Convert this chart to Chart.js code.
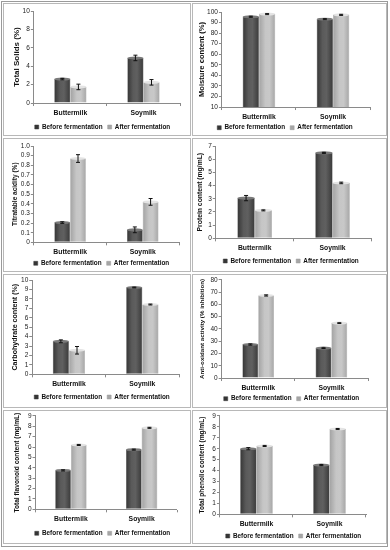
<!DOCTYPE html>
<html>
<head>
<meta charset="utf-8">
<script src="https://cdn.jsdelivr.net/npm/chart.js@4"></script>
<style>
  html, body { margin: 0; padding: 0; background: #fff; }
  #wrap { position: relative; width: 390px; height: 550px; overflow: hidden; }
  #frame { position: absolute; left: 1px; top: 1px; width: 387px; height: 546px; border: 1px solid #9a9a9a; box-sizing: border-box; }
  .cell { position: absolute; border: 1px solid #b8b8b8; box-sizing: border-box; background: #fff; overflow: hidden; }
  .cell canvas { display: block; }
</style>
</head>
<body>
<div id="wrap">
  <div id="frame"></div>
</div>
<script>
// ---------- DATA ----------
const categories = ["Buttermilk", "Soymilk"];
const seriesNames = ["Before fermentation", "After fermentation"];

const solidsBefore = [2.6, 4.9];
const solidsAfter = [1.75, 2.25];
const solidsErrBefore = [0.08, 0.3];
const solidsErrAfter = [0.3, 0.3];

const moistureBefore = [95.5, 93.2];
const moistureAfter = [98.0, 97.3];
const moistureErrBefore = [0.5, 0.5];
const moistureErrAfter = [0.5, 0.5];

const acidityBefore = [0.205, 0.13];
const acidityAfter = [0.87, 0.42];
const acidityErrBefore = [0.008, 0.03];
const acidityErrAfter = [0.04, 0.035];

const proteinBefore = [3.05, 6.48];
const proteinAfter = [2.12, 4.2];
const proteinErrBefore = [0.2, 0.04];
const proteinErrAfter = [0.04, 0.06];

const carbBefore = [3.5, 9.2];
const carbAfter = [2.55, 7.4];
const carbErrBefore = [0.15, 0.04];
const carbErrAfter = [0.4, 0.05];

const antioxBefore = [27.3, 24.4];
const antioxAfter = [67.3, 44.8];
const antioxErrBefore = [0.5, 0.3];
const antioxErrAfter = [0.5, 0.3];

const flavBefore = [3.75, 5.75];
const flavAfter = [6.2, 7.85];
const flavErrBefore = [0.06, 0.05];
const flavErrAfter = [0.05, 0.05];

const phenBefore = [6.0, 4.5];
const phenAfter = [6.25, 7.8];
const phenErrBefore = [0.1, 0.05];
const phenErrAfter = [0.05, 0.05];

const yTitles = [
  "Total Solids (%)",
  "Moisture content (%)",
  "Titratable acidity (%)",
  "Protein content (mg/mL)",
  "Carbohydrate content (%)",
  "Anti-oxidant activity (% inhibition)",
  "Total flavonoid content (mg/mL)",
  "Total phenolic content (mg/mL)"
];
const yMins = [0, 10, 0, 0, 0, 0, 0, 0];
const yMaxs = [10, 100, 1, 7, 10, 80, 9, 9];
const ySteps = [2, 10, 0.1, 1, 1, 10, 1, 1];

const panelSeries = [
  [solidsBefore, solidsAfter, solidsErrBefore, solidsErrAfter],
  [moistureBefore, moistureAfter, moistureErrBefore, moistureErrAfter],
  [acidityBefore, acidityAfter, acidityErrBefore, acidityErrAfter],
  [proteinBefore, proteinAfter, proteinErrBefore, proteinErrAfter],
  [carbBefore, carbAfter, carbErrBefore, carbErrAfter],
  [antioxBefore, antioxAfter, antioxErrBefore, antioxErrAfter],
  [flavBefore, flavAfter, flavErrBefore, flavErrAfter],
  [phenBefore, phenAfter, phenErrBefore, phenErrAfter]
];

// ---------- LAYOUT (positions / styles) ----------
const cellBoxes = [
  [3, 3, 188, 133], [192, 3, 195, 133],
  [3, 138, 188, 134], [192, 138, 195, 134],
  [3, 274, 188, 134], [192, 274, 195, 134],
  [3, 410, 188, 134], [192, 410, 195, 134]
];
const pads = [
  {top: 7, right: 10, left: 8, bottom: -6.6},
  {top: 8, right: 16, left: 4, bottom: -10.6},
  {top: 7, right: 11, left: 7, bottom: -9.9},
  {top: 7, right: 14.5, left: 3, bottom: -5.9},
  {top: 5, right: 11, left: 7, bottom: -5.9},
  {top: 3, right: 18, left: 5.5, bottom: -9.6},
  {top: 4, right: 13, left: 9, bottom: -4.9},
  {top: 4, right: 20, left: 5.5, bottom: -9.9}
];
const titleSizes = [8, 7.6, 6.5, 6.8, 7.1, 6.2, 6.6, 6.55];
const titleGaps = [0, 0, 1, 3, 0.5, 3.5, 6, 5];
const catPcts = [0.44, 0.44, 0.434, 0.444, 0.44, 0.432, 0.443, 0.447];
const legendCenters = [[98.5, 123], [92, 123.7], [97.5, 124.3], [98, 122], [98, 122], [98.5, 123.7], [98.5, 122.3], [100.5, 125]];

const FONT = "'Liberation Sans', Arial, sans-serif";
const LEG_PAD = 5;
const LEG_FONT = 6.4;

function barGradient(dsIndex, k) {
  return function(ctx) {
    const chart = ctx.chart;
    const xs = chart.scales.x;
    const flat = dsIndex === 0 ? '#4f4f4f' : '#b4b4b4';
    if (!xs || ctx.dataIndex === undefined || !chart.chartArea) return flat;
    const catW = xs.width / categories.length;
    const bw = catW * catPcts[k] / 2;
    const cx = xs.getPixelForValue(ctx.dataIndex) + (dsIndex - 0.5) * bw;
    const g = chart.ctx.createLinearGradient(cx - bw / 2, 0, cx + bw / 2, 0);
    if (dsIndex === 0) {
      g.addColorStop(0, '#353535');
      g.addColorStop(0.35, '#5a5a5a');
      g.addColorStop(0.6, '#606060');
      g.addColorStop(1, '#3a3a3a');
    } else {
      g.addColorStop(0, '#a2a2a2');
      g.addColorStop(0.4, '#c6c6c6');
      g.addColorStop(0.65, '#c8c8c8');
      g.addColorStop(1, '#a6a6a6');
    }
    return g;
  };
}

const errorBarPlugin = {
  id: 'errorBars',
  afterDatasetsDraw(chart) {
    const ctx = chart.ctx;
    const ys = chart.scales.y;
    ctx.save();
    chart.data.datasets.forEach((ds, i) => {
      const meta = chart.getDatasetMeta(i);
      meta.data.forEach((bar, j) => {
        const v = ds.data[j];
        const e = ds.errors[j];
        ctx.fillStyle = i === 0 ? '#7a7a7a' : '#e4e4e4';
        ctx.beginPath();
        ctx.ellipse(bar.x, bar.y, bar.width / 2, 1.5, 0, 0, Math.PI * 2);
        ctx.fill();
        const yt = ys.getPixelForValue(v + e);
        const yb = ys.getPixelForValue(v - e);
        ctx.strokeStyle = '#111';
        ctx.lineWidth = 1;
        ctx.beginPath();
        ctx.moveTo(bar.x, yt); ctx.lineTo(bar.x, yb);
        ctx.moveTo(bar.x - 2, yt); ctx.lineTo(bar.x + 2, yt);
        ctx.moveTo(bar.x - 2, yb); ctx.lineTo(bar.x + 2, yb);
        ctx.stroke();
      });
    });
    ctx.restore();
  }
};

// place the legend block where the reference has it
const legendPlacePlugin = {
  id: 'legendPlace',
  afterLayout(chart) {
    const lg = chart.legend;
    const t = chart.options.plugins.legendPlace;
    if (!lg || !t) return;
    const dx = t.cx - (lg.left + lg.right) / 2;
    lg.left += dx; lg.right += dx;
    const h = lg.bottom - lg.top;
    lg.top = t.cy - LEG_PAD - LEG_FONT / 2;
    lg.bottom = lg.top + h;
  }
};

const wrap = document.getElementById('wrap');
panelSeries.forEach((s, k) => {
  const b = cellBoxes[k];
  const cell = document.createElement('div');
  cell.className = 'cell';
  cell.style.left = b[0] + 'px';
  cell.style.top = b[1] + 'px';
  cell.style.width = b[2] + 'px';
  cell.style.height = b[3] + 'px';
  const cv = document.createElement('canvas');
  cv.width = b[2] - 2; cv.height = b[3] - 2;
  cv.style.width = (b[2] - 2) + 'px';
  cv.style.height = (b[3] - 2) + 'px';
  cell.appendChild(cv);
  wrap.appendChild(cell);

  new Chart(cv, {
    type: 'bar',
    data: {
      labels: categories,
      datasets: [
        { label: seriesNames[0], data: s[0], errors: s[2], backgroundColor: barGradient(0, k), borderColor: '#3a3a3a', borderWidth: 0.5 },
        { label: seriesNames[1], data: s[1], errors: s[3], backgroundColor: barGradient(1, k), borderColor: '#9a9a9a', borderWidth: 0.5 }
      ]
    },
    options: {
      responsive: false,
      animation: false,
      devicePixelRatio: 1,
      categoryPercentage: catPcts[k],
      barPercentage: 1,
      layout: { padding: pads[k] },
      plugins: {
        tooltip: { enabled: false },
        legendPlace: { cx: legendCenters[k][0], cy: legendCenters[k][1] },
        legend: {
          position: 'bottom',
          labels: {
            boxWidth: 4, boxHeight: 4, padding: LEG_PAD,
            color: '#111',
            font: { family: FONT, size: LEG_FONT, weight: 'bold' }
          }
        }
      },
      scales: {
        x: {
          grid: { drawOnChartArea: false, color: '#8a8a8a', tickLength: 3 },
          border: { color: '#8a8a8a' },
          ticks: { color: '#111', padding: 3, font: { family: FONT, size: 6.8, weight: 'bold' } }
        },
        y: {
          min: yMins[k], max: yMaxs[k],
          grid: { drawOnChartArea: false, color: '#8a8a8a', tickLength: 3 },
          border: { color: '#8a8a8a' },
          ticks: { stepSize: ySteps[k], autoSkip: false, color: '#222', padding: 1, font: { family: FONT, size: 6.5 } },
          title: { display: true, text: yTitles[k], color: '#111', padding: { top: 0, bottom: titleGaps[k] }, font: { family: FONT, size: titleSizes[k], weight: 'bold' } }
        }
      }
    },
    plugins: [errorBarPlugin, legendPlacePlugin]
  });
});
</script>
</body>
</html>
